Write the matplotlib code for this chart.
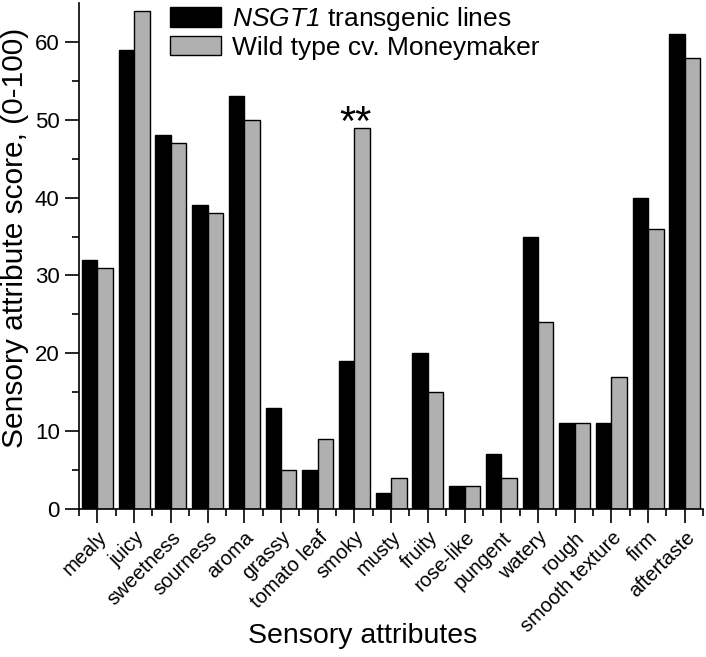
import matplotlib
matplotlib.use('Agg')
import matplotlib.pyplot as plt
import numpy as np

# ---------------------------------------------------------------------------
# Data
# ---------------------------------------------------------------------------
ATTRIBUTES = ["mealy", "juicy", "sweetness", "sourness", "aroma", "grassy",
              "tomato leaf", "smoky", "musty", "fruity", "rose-like", "pungent",
              "watery", "rough", "smooth texture", "firm", "aftertaste"]
NSGT1 = [32, 59, 48, 39, 53, 13, 5, 19, 2, 20, 3, 7, 35, 11, 11, 40, 61]
WILD = [31, 64, 47, 38, 50, 5, 9, 49, 4, 15, 3, 4, 24, 11, 17, 36, 58]
SIGNIF = {"smoky": "**"}

BLACK = "#000000"
GREY = "#B0B0B0"

# mathtext is only used for the italic gene name; digits fall back to "rm",
# so rm is italic too to keep the "1" slanted
plt.rcParams.update({
    "font.family": ["Liberation Sans", "DejaVu Sans"],
    "mathtext.fontset": "custom",
    "mathtext.rm": "Liberation Sans:italic",
    "mathtext.it": "Liberation Sans:italic",
    "axes.linewidth": 1.2,
})

fig = plt.figure(figsize=(7.06, 6.57), dpi=100)
ax = fig.add_axes([0.112, 0.2253, 0.884, 0.770])

x = np.arange(len(ATTRIBUTES))
w = 0.42
ax.bar(x - w / 2, NSGT1, width=w, color=BLACK, edgecolor="black",
       linewidth=1.0, label=r"$\mathit{NSGT1}$ transgenic lines")
ax.bar(x + w / 2, WILD, width=w, color=GREY, edgecolor="black",
       linewidth=1.0, label="Wild type cv. Moneymaker")

# significance marks (asterisks sit high in the em box, so baseline goes low)
for name, mark in SIGNIF.items():
    i = ATTRIBUTES.index(name)
    ax.text(i + 0.02, max(NSGT1[i], WILD[i]) - 1.0, mark, ha="center",
            va="baseline", fontsize=30)

ax.set_xlim(-0.5, len(ATTRIBUTES) - 0.5)
ax.set_ylim(0, 65)
ax.set_yticks([0, 10, 20, 30, 40, 50, 60])
ax.set_yticks(np.arange(5, 65, 10), minor=True)
ax.set_xticks(x)
ax.set_xticks(np.arange(-0.5, len(ATTRIBUTES), 1.0), minor=True)
ax.set_xticklabels(ATTRIBUTES, rotation=45, ha="right", rotation_mode="anchor",
                   fontsize=14.5)
ax.tick_params(axis="y", labelsize=16, pad=4)
ax.tick_params(which="major", direction="out", length=10, width=1.2)
ax.tick_params(which="minor", direction="out", length=5, width=1.2)

for side in ("top", "right"):
    ax.spines[side].set_visible(False)

ax.set_xlabel("Sensory attributes", fontsize=20.5)
ax.xaxis.set_label_coords(0.455, -0.226)
ax.set_ylabel("Sensory attribute score, (0-100)", fontsize=21.5)
ax.yaxis.set_label_coords(-0.080, 0.535)

ax.legend(loc="upper left", bbox_to_anchor=(0.145, 0.996), frameon=False,
          fontsize=19, handlelength=1.95, handleheight=0.75,
          handletextpad=0.4, labelspacing=0.1, borderaxespad=0,
          borderpad=0)

fig.savefig("out.png", dpi=100)
